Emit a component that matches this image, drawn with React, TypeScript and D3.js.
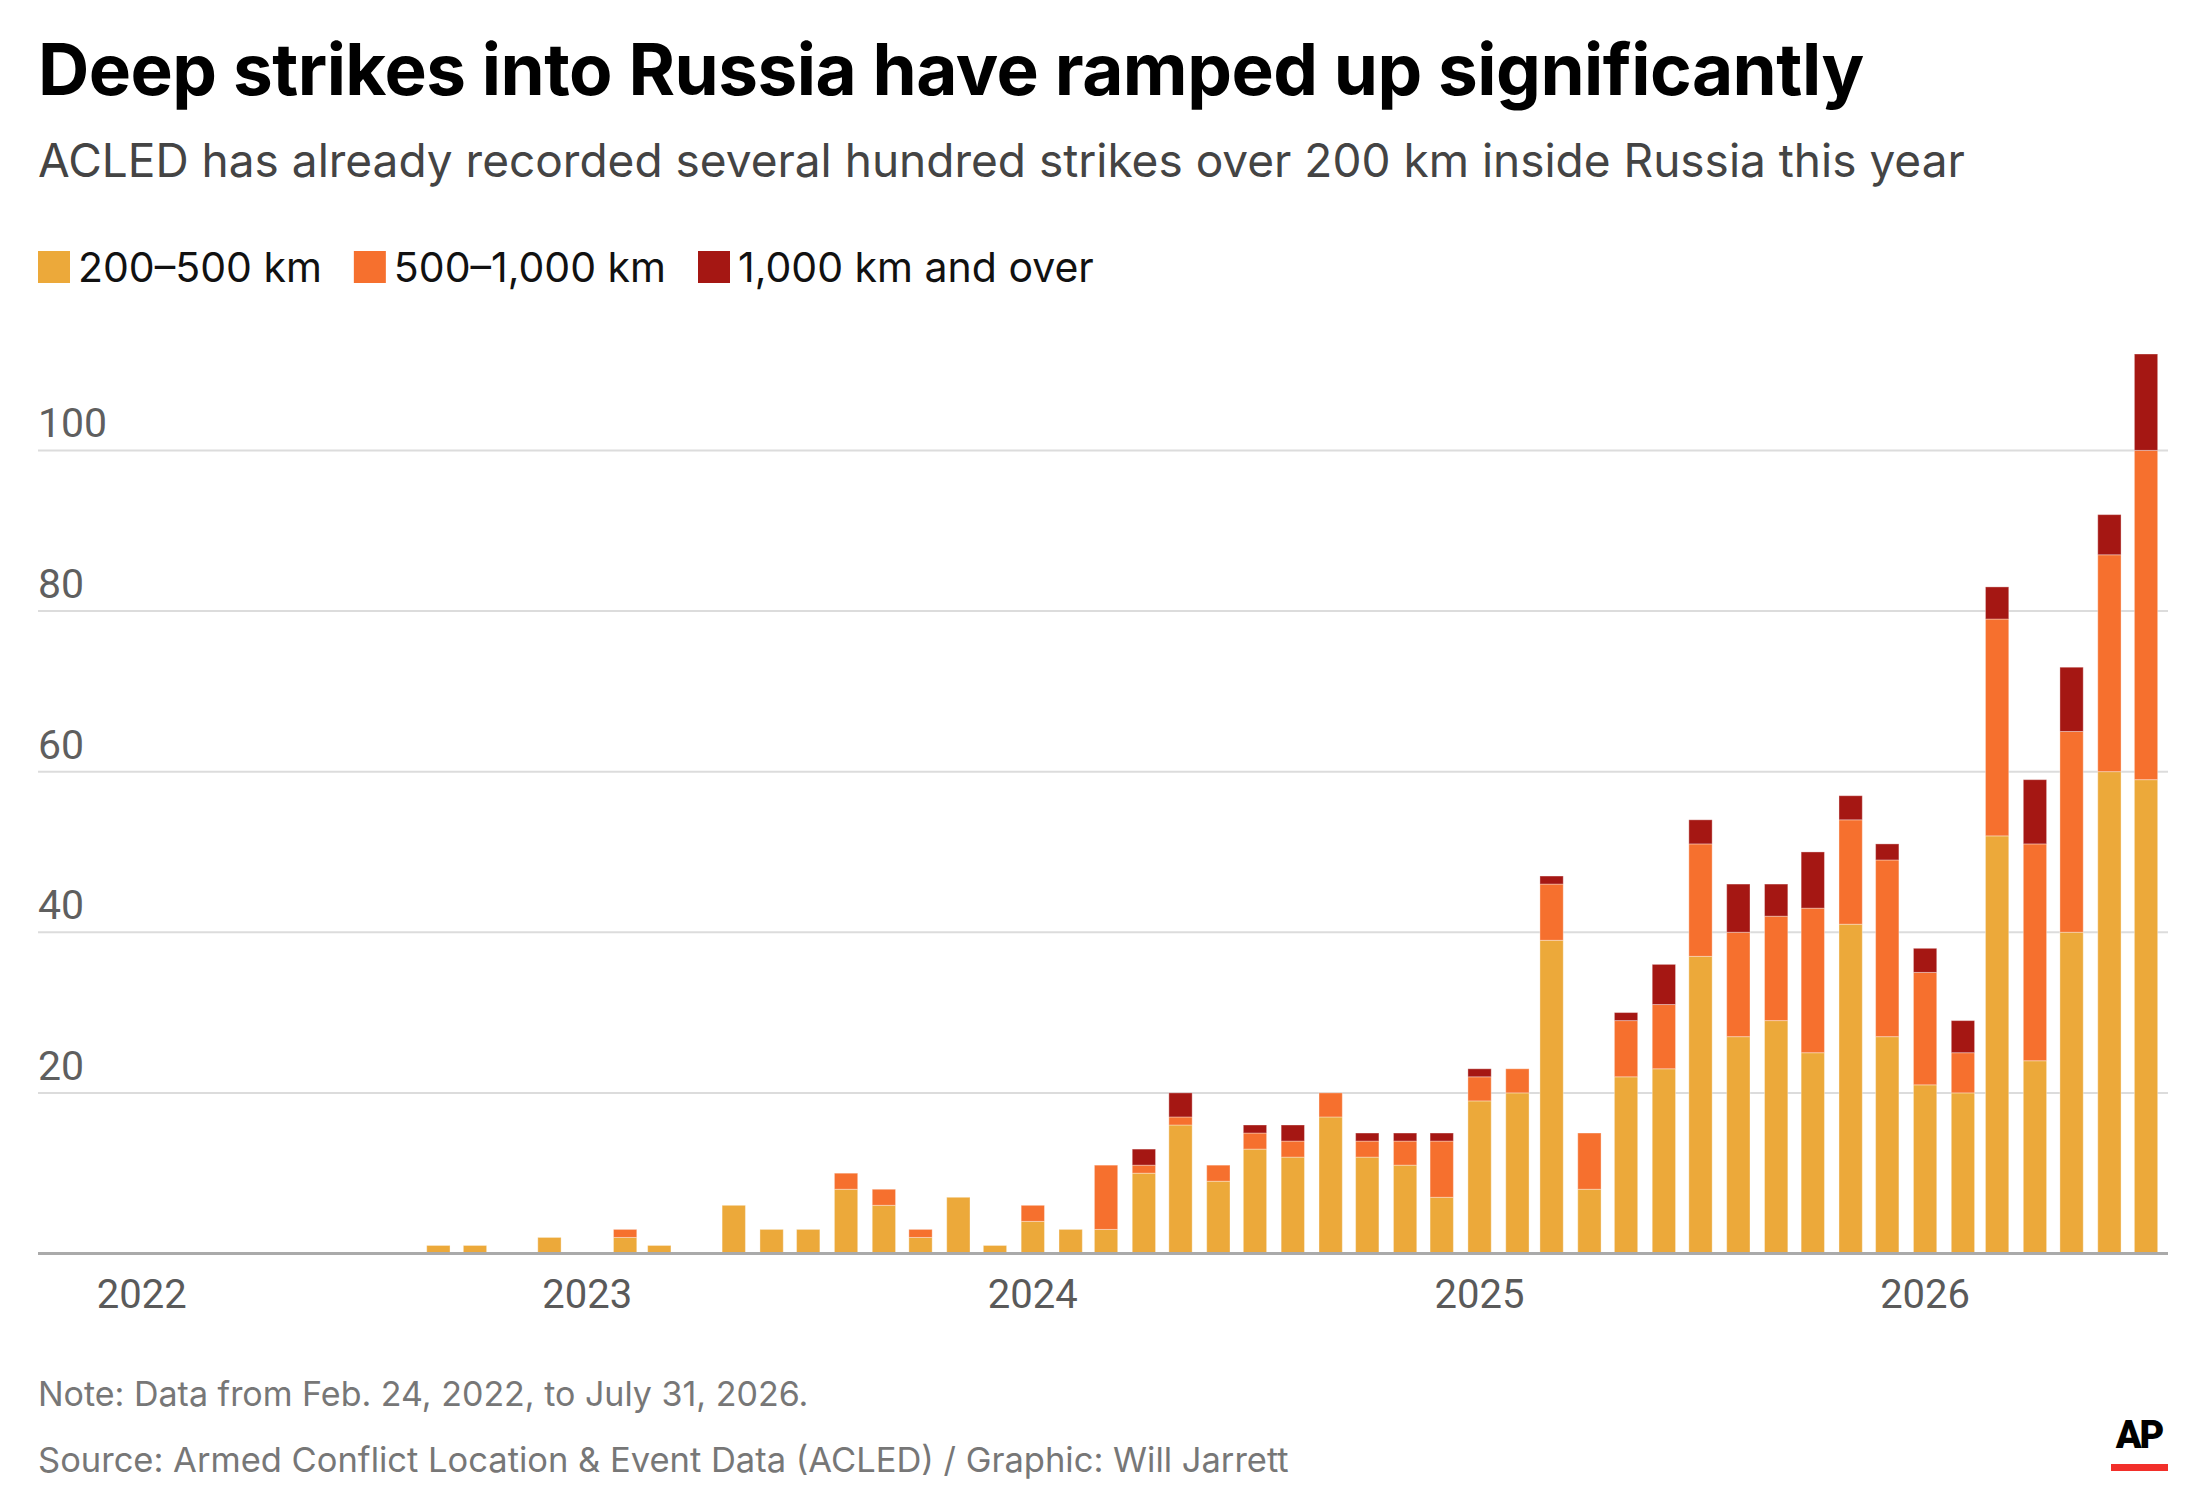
import React, { useRef, useEffect } from 'react';
import * as d3 from 'd3';

// months from Feb 2022 to Jul 2026
const months: string[] = [
  '2022-02', '2022-03', '2022-04', '2022-05', '2022-06', '2022-07', '2022-08', '2022-09', '2022-10', '2022-11', '2022-12',
  '2023-01', '2023-02', '2023-03', '2023-04', '2023-05', '2023-06', '2023-07', '2023-08', '2023-09', '2023-10', '2023-11', '2023-12',
  '2024-01', '2024-02', '2024-03', '2024-04', '2024-05', '2024-06', '2024-07', '2024-08', '2024-09', '2024-10', '2024-11', '2024-12',
  '2025-01', '2025-02', '2025-03', '2025-04', '2025-05', '2025-06', '2025-07', '2025-08', '2025-09', '2025-10', '2025-11', '2025-12',
  '2026-01', '2026-02', '2026-03', '2026-04', '2026-05', '2026-06', '2026-07',
];

const near: number[] = [
  0, 0, 0, 0, 0, 0, 0, 1, 1, 0, 2,
  0, 2, 1, 0, 6, 3, 3, 8, 6, 2, 7, 1,
  4, 3, 3, 10, 16, 9, 13, 12, 17, 12, 11, 7,
  19, 20, 39, 8, 22, 23, 37, 27, 29, 25, 41, 27,
  21, 20, 52, 24, 40, 60, 59,
];

const mid: number[] = [
  0, 0, 0, 0, 0, 0, 0, 0, 0, 0, 0,
  0, 1, 0, 0, 0, 0, 0, 2, 2, 1, 0, 0,
  2, 0, 8, 1, 1, 2, 2, 2, 3, 2, 3, 7,
  3, 3, 7, 7, 7, 8, 14, 13, 13, 18, 13, 22,
  14, 5, 27, 27, 25, 27, 41,
];

const far: number[] = [
  0, 0, 0, 0, 0, 0, 0, 0, 0, 0, 0,
  0, 0, 0, 0, 0, 0, 0, 0, 0, 0, 0, 0,
  0, 0, 0, 2, 3, 0, 1, 2, 0, 1, 1, 1,
  1, 0, 1, 0, 1, 5, 3, 6, 4, 7, 3, 2,
  3, 4, 4, 8, 8, 5, 12,
];

const seriesKeys = ['near', 'mid', 'far'];
const seriesLabels = ['200–500 km', '500–1,000 km', '1,000 km and over'];
const seriesColors = ['#eca93a', '#f6702e', '#a51713'];

const yTicks = [20, 40, 60, 80, 100];
const yearTicks = ['2022', '2023', '2024', '2025', '2026'];
const xDomain = ['2021-10-08', '2026-07-19'];
const yMax = 112;

const title = 'Deep strikes into Russia have ramped up significantly';
const subtitle = 'ACLED has already recorded several hundred strikes over 200 km inside Russia this year';
const note = 'Note: Data from Feb. 24, 2022, to July 31, 2026.';
const source = 'Source: Armed Conflict Location & Event Data (ACLED) / Graphic: Will Jarrett';

const FONT = 'Inter, Roboto, sans-serif';
const AXIS_FONT = 'Roboto, "Noto Sans", sans-serif';

const App: React.FC = () => {
  const svgRef = useRef<SVGSVGElement>(null);

  useEffect(() => {
    if (!svgRef.current) return;
    const width = 2202;
    const margin = { left: 38, right: 34, top: 354, baseline: 1253.5 };
    const barWidth = 23.3;

    const svg = d3.select(svgRef.current);
    svg.selectAll('*').remove();

    const parseMonth = d3.utcParse('%Y-%m');
    const parseDay = d3.utcParse('%Y-%m-%d');

    const rows = months.map((m, i) => ({
      date: parseMonth(m) as Date,
      near: near[i],
      mid: mid[i],
      far: far[i],
    }));

    const x = d3.scaleUtc()
      .domain(xDomain.map(d => parseDay(d) as Date))
      .range([margin.left, width - margin.right]);

    const y = d3.scaleLinear()
      .domain([0, yMax])
      .range([margin.baseline, margin.top]);

    // Titles
    svg.append('text')
      .attr('x', 38).attr('y', 95)
      .attr('font-family', FONT).attr('font-weight', 700).attr('font-size', 71)
      .attr('letter-spacing', -0.5)
      .attr('fill', '#000')
      .text(title);

    svg.append('text')
      .attr('x', 38).attr('y', 177)
      .attr('font-family', FONT).attr('font-size', 46)
      .attr('fill', '#444')
      .text(subtitle);

    // Legend
    const legend = svg.append('g').attr('transform', 'translate(38,251)');
    let lx = 0;
    seriesLabels.forEach((label, i) => {
      const g = legend.append('g').attr('transform', `translate(${lx},0)`);
      g.append('rect').attr('width', 32).attr('height', 32).attr('fill', seriesColors[i]);
      const t = g.append('text')
        .attr('x', 40).attr('y', 31)
        .attr('font-family', FONT).attr('font-size', 41)
        .attr('fill', '#111')
        .text(label);
      const w = (t.node() as SVGTextElement).getComputedTextLength();
      lx += 40 + w + 32;
    });

    // Grid lines and y labels
    const grid = svg.append('g');
    yTicks.forEach(v => {
      grid.append('line')
        .attr('x1', margin.left).attr('x2', width - margin.right)
        .attr('y1', y(v)).attr('y2', y(v))
        .attr('stroke', '#dcdcdc').attr('stroke-width', 2);
      grid.append('text')
        .attr('x', margin.left).attr('y', y(v) - 13)
        .attr('font-family', AXIS_FONT).attr('font-size', 41)
        .attr('fill', '#5f5f5f')
        .text(v);
    });

    // Stacked bars
    const stack = d3.stack<any>().keys(seriesKeys);
    const layers = stack(rows);

    svg.append('g')
      .selectAll('g')
      .data(layers)
      .join('g')
      .attr('fill', (_d, i) => seriesColors[i])
      .selectAll('rect')
      .data(d => d.filter(s => s[1] - s[0] > 0))
      .join('rect')
      .attr('x', d => x(d.data.date) - barWidth / 2)
      .attr('width', barWidth)
      .attr('y', d => y(d[1]))
      .attr('height', d => y(d[0]) - y(d[1]))
      .attr('stroke', '#fff')
      .attr('stroke-opacity', 0.35)
      .attr('stroke-width', 1);

    // Baseline
    svg.append('line')
      .attr('x1', margin.left).attr('x2', width - margin.right)
      .attr('y1', margin.baseline).attr('y2', margin.baseline)
      .attr('stroke', '#aaa').attr('stroke-width', 3);

    // Year labels
    yearTicks.forEach(yr => {
      svg.append('text')
        .attr('x', x(parseDay(`${yr}-01-01`) as Date)).attr('y', 1308)
        .attr('text-anchor', 'middle')
        .attr('font-family', AXIS_FONT).attr('font-size', 40)
        .attr('fill', '#5a5a5a')
        .text(yr);
    });

    // Footer
    svg.append('text')
      .attr('x', 38).attr('y', 1406)
      .attr('font-family', FONT).attr('font-size', 34)
      .attr('fill', '#777')
      .text(note);

    svg.append('text')
      .attr('x', 38).attr('y', 1472)
      .attr('font-family', FONT).attr('font-size', 34.5)
      .attr('fill', '#777')
      .text(source);

    // AP logo
    svg.append('text')
      .attr('x', 2139).attr('y', 1448)
      .attr('text-anchor', 'middle')
      .attr('font-family', AXIS_FONT).attr('font-weight', 900).attr('font-size', 38)
      .attr('letter-spacing', -2)
      .attr('fill', '#000')
      .text('AP');
    svg.append('rect')
      .attr('x', 2111).attr('y', 1464).attr('width', 57).attr('height', 7)
      .attr('fill', '#f22f2a');
  }, []);

  return (
    <div style={{ position: 'absolute', top: 0, left: 0, background: '#fff' }}>
      <svg ref={svgRef} width={2202} height={1504} style={{ display: 'block' }} />
    </div>
  );
};

export default App;
